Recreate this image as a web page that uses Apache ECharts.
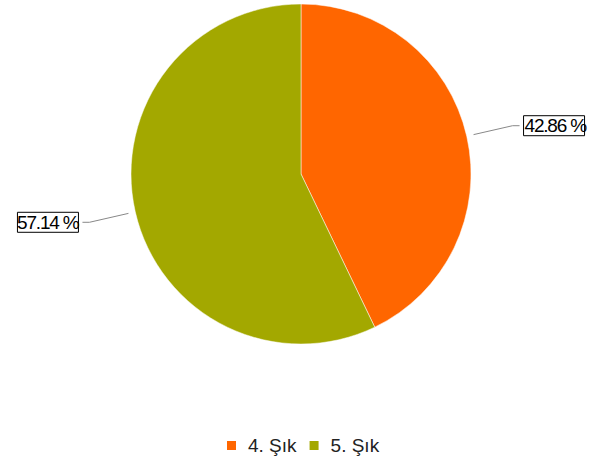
<!DOCTYPE html>
<html>
<head>
<meta charset="utf-8">
<script src="https://cdn.jsdelivr.net/npm/echarts@6/dist/echarts.min.js"></script>
<style>html,body{margin:0;padding:0;background:#fff}#c{width:591px;height:459px}</style>
</head>
<body>
<div id="c"></div>
<script>
const categories = ['4. Şık', '5. Şık'];
const values = [3, 4];
const colors = ['#FF6600', '#A3A800'];

const FONT = 'Liberation Sans, Arial, sans-serif';
const chart = echarts.init(document.getElementById('c'), null, {renderer: 'svg'});
const pieData = categories.map((c, i) => ({name: c, value: values[i]}));
chart.setOption({
  animation: false,
  color: colors,
  legend: {
    top: 431,
    left: 220,
    icon: 'rect',
    itemWidth: 11,
    itemHeight: 11,
    itemGap: 11,
    textStyle: {fontFamily: FONT, fontSize: 19, color: '#222', padding: [0, 0, 0, 6]},
    data: categories
  },
  series: [{
    type: 'pie',
    center: [301, 174],
    radius: [0, 170],
    startAngle: 90,
    clockwise: true,
    data: pieData,
    itemStyle: {borderColor: '#fff', borderWidth: 0.5},
    label: {show: false},
    labelLine: {show: false},
    emphasis: {disabled: true}
  }, {
    type: 'pie',
    center: [301, 174],
    radius: [170, 177],
    startAngle: 90,
    clockwise: true,
    silent: true,
    avoidLabelOverlap: false,
    data: pieData,
    itemStyle: {color: 'rgba(0,0,0,0)'},
    label: {
      show: true,
      position: 'outside',
      formatter: p => p.percent.toFixed(2) + ' %',
      fontFamily: FONT,
      fontSize: 19,
      width: 60,
      overflow: 'none',
      color: '#000',
      borderColor: '#000',
      borderWidth: 1,
      padding: [1, 0, 0, 1],
      distanceToLabelLine: 4
    },
    labelLine: {
      show: true,
      length: 40,
      length2: 7,
      lineStyle: {color: '#888', width: 1}
    },
    emphasis: {disabled: true}
  }]
});
document.querySelectorAll('#c svg text').forEach(t => {
  if (t.textContent.indexOf('%') >= 0) t.style.letterSpacing = '-1.2px';
});
</script>
</body>
</html>
